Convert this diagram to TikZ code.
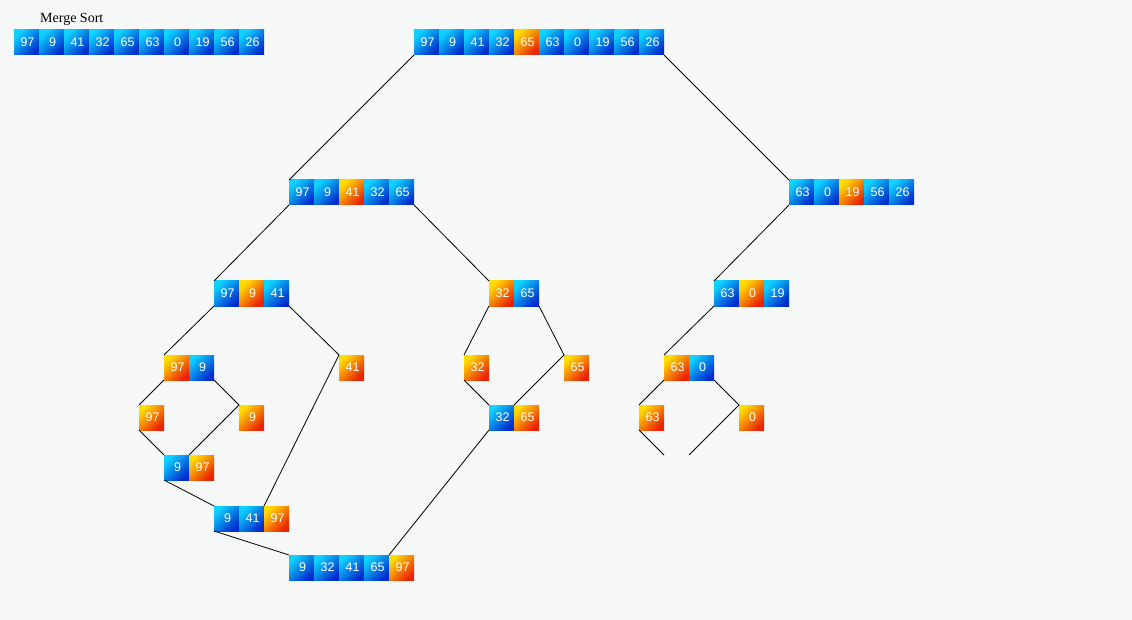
\documentclass[tikz,border=0pt]{standalone}
\usepackage{fontspec}
\setmainfont{Liberation Serif}
\newfontfamily\cellfont{Liberation Sans}
\definecolor{bgc}{RGB}{246,247,247}
\definecolor{bluA}{RGB}{15,210,255}
\definecolor{bluB}{RGB}{0,45,205}
\definecolor{oraA}{RGB}{255,220,0}
\definecolor{oraB}{RGB}{235,35,5}
\tikzset{
  cellbase/.style={anchor=north west, minimum width=25pt, minimum height=25pt,
    inner sep=0pt, outer sep=0pt, text=white, font=\cellfont\fontsize{12.5}{12.5}\selectfont},
  cellb/.style={cellbase, top color=bluA, bottom color=bluB, shading angle=45},
  cello/.style={cellbase, top color=oraA, bottom color=oraB, shading angle=45},
  link/.style={draw=black, line width=0.8pt},
}
\newcommand\cellarray[4]{%
  \foreach \v/\c [count=\i] in {#4} {
    \node[cell\c] (#1-\i) at ({#2+(\i-1)*25},#3) {\raisebox{-1.5pt}{\hspace{2pt}\v}};
  }}
\begin{document}
\begin{tikzpicture}[x=1pt,y=-1pt]
\path[use as bounding box, fill=bgc] (0,0) rectangle (1132,620);
\node[anchor=base west, inner sep=0pt, font=\fontsize{14}{14}\selectfont] (title) at (40,23) {Merge Sort};
% original array
\cellarray{S}{14}{30}{97/b,9/b,41/b,32/b,65/b,63/b,0/b,19/b,56/b,26/b}
% tree
\cellarray{T}{414}{30}{97/b,9/b,41/b,32/b,65/o,63/b,0/b,19/b,56/b,26/b}
\cellarray{L}{289}{180}{97/b,9/b,41/o,32/b,65/b}
\cellarray{R}{789}{180}{63/b,0/b,19/o,56/b,26/b}
\cellarray{LL}{214}{281}{97/b,9/o,41/b}
\cellarray{LR}{489}{281}{32/o,65/b}
\cellarray{RL}{714}{281}{63/b,0/o,19/b}
\cellarray{A}{164}{355}{97/o,9/b}
\cellarray{B}{339}{355}{41/o}
\cellarray{C}{464}{355}{32/o}
\cellarray{E}{564}{355}{65/o}
\cellarray{D}{664}{355}{63/o,0/b}
\cellarray{Aa}{139}{405}{97/o}
\cellarray{Ab}{239}{405}{9/o}
\cellarray{CM}{489}{405}{32/b,65/o}
\cellarray{Da}{639}{405}{63/o}
\cellarray{Db}{739}{405}{0/o}
\cellarray{AM}{164}{455}{9/b,97/o}
\cellarray{LLM}{214}{506}{9/b,41/b,97/o}
\cellarray{LM}{289}{555}{9/b,32/b,41/b,65/b,97/o}
\coordinate (e1) at (664,455);
\coordinate (e2) at (689,455);
% connectors
\draw[link] (T-1.south west) -- (L-1.north west);
\draw[link] (T-10.south east) -- (R-1.north west);
\draw[link] (L-1.south west) -- (LL-1.north west);
\draw[link] (L-5.south east) -- (LR-1.north west);
\draw[link] (R-1.south west) -- (RL-1.north west);
\draw[link] (LL-1.south west) -- (A-1.north west);
\draw[link] (LL-3.south east) -- (B-1.north west);
\draw[link] (A-1.south west) -- (Aa-1.north west);
\draw[link] (A-2.south east) -- (Ab-1.north west);
\draw[link] (Aa-1.south west) -- (AM-1.north west);
\draw[link] (Ab-1.north west) -- (AM-1.north east);
\draw[link] (AM-1.south west) -- (LLM-1.north west);
\draw[link] (B-1.north west) -- (LLM-2.north east);
\draw[link] (LLM-1.south west) -- (LM-1.north west);
\draw[link] (LR-1.south west) -- (C-1.north west);
\draw[link] (LR-2.south east) -- (E-1.north west);
\draw[link] (C-1.south west) -- (CM-1.north west);
\draw[link] (E-1.north west) -- (CM-1.north east);
\draw[link] (CM-1.south west) -- (LM-4.north east);
\draw[link] (RL-1.south west) -- (D-1.north west);
\draw[link] (D-1.south west) -- (Da-1.north west);
\draw[link] (D-2.south east) -- (Db-1.north west);
\draw[link] (Da-1.south west) -- (e1);
\draw[link] (Db-1.north west) -- (e2);
\end{tikzpicture}
\end{document}
